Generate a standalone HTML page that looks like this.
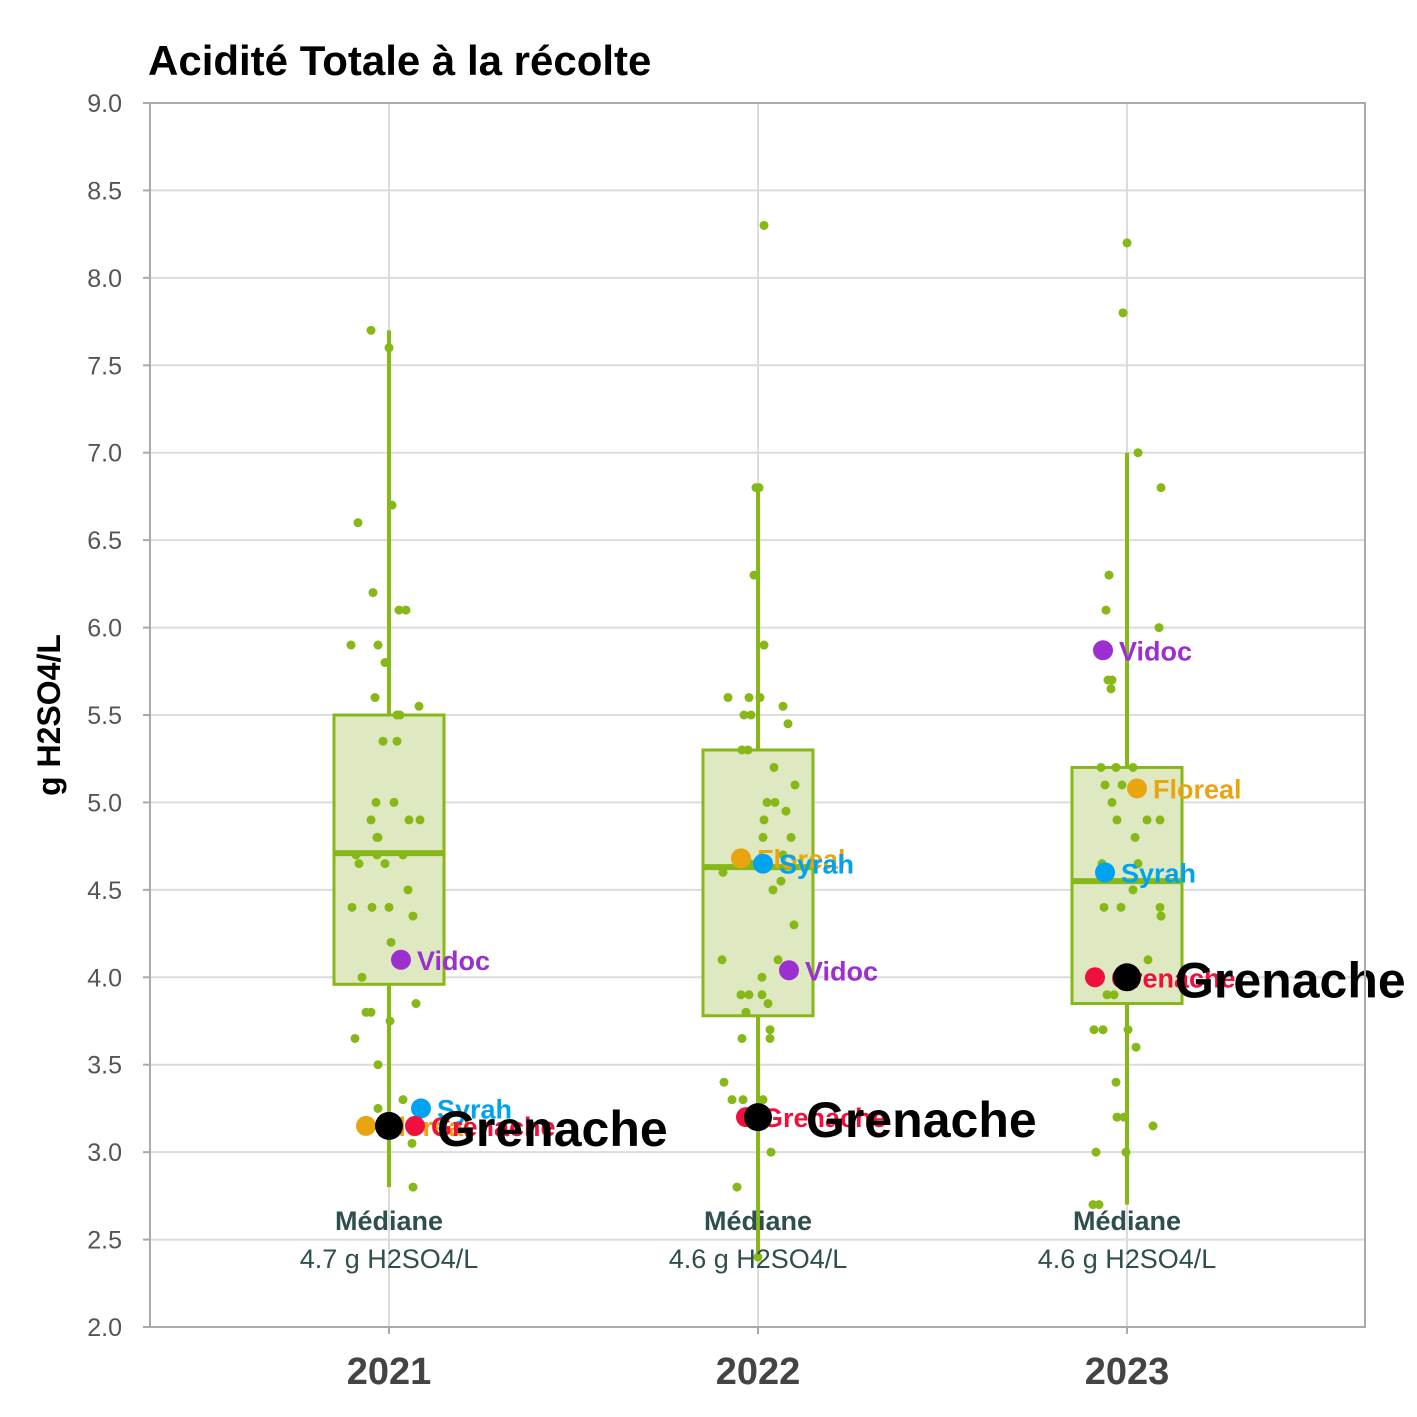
<!DOCTYPE html>
<html><head><meta charset="utf-8"><style>
body{margin:0;background:#fff}
svg{display:block;font-family:"Liberation Sans",sans-serif}
</style></head><body>
<svg id="chart" width="1417" height="1417" viewBox="0 0 1417 1417">
<rect width="1417" height="1417" fill="#fff"/>
<text x="148" y="75" font-size="42" font-weight="bold" fill="#000">Acidité Totale à la récolte</text>
<g id="grid"></g><g id="boxes"></g><g id="pts"></g><g id="hl"></g><g id="axes"></g>
</svg>
<script>
const categories=["2021","2022","2023"];
const q1=[3.96,3.78,3.85];
const medians=[4.71,4.63,4.55];
const q3=[5.5,5.3,5.2];
const whiskerLow=[2.8,2.4,2.7];
const whiskerHigh=[7.7,6.8,7.0];
const medianLabels=["4.7","4.6","4.6"];
const yTicks=[2.0,2.5,3.0,3.5,4.0,4.5,5.0,5.5,6.0,6.5,7.0,7.5,8.0,8.5,9.0];
const pts2021=[7.7,7.6,6.7,6.6,6.2,6.1,6.1,5.9,5.9,5.8,5.6,5.55,5.5,5.5,5.35,5.35,5.0,5.0,4.9,4.9,4.9,4.8,4.8,4.7,4.7,4.7,4.65,4.65,4.5,4.4,4.4,4.4,4.35,4.2,4.0,3.8,3.8,3.85,3.75,3.65,3.5,3.3,3.25,3.05,2.8,3.15];
const jit2021=[-18,0,3,-31,-16,10,17,-38,-11,-4,-14,30,8,11,-6,8,-13,5,-18,20,31,-12,-11,-33,-12,14,-30,-4,19,-37,-17,0,24,2,-27,-23,-18,27,1,-34,-11,14,-11,23,24,21];
const pts2022=[8.3,6.8,6.8,6.3,5.9,5.6,5.6,5.6,5.5,5.5,5.55,5.45,5.3,5.3,5.2,5.1,5.0,5.0,4.95,4.9,4.8,4.8,4.7,4.65,4.6,4.55,4.5,4.3,4.1,4.1,4.0,3.9,3.9,3.9,3.85,3.8,3.7,3.65,3.65,3.4,3.3,3.3,3.3,2.8,3.0,2.4];
const jit2022=[6,-2,1,-4,6,-30,-9,2,-14,-7,25,30,-16,-10,16,37,9,17,28,6,5,33,25,-8,-35,23,15,36,-36,20,4,-17,-9,4,10,-12,12,-16,12,-34,-26,-15,5,-21,13,0];
const pts2023=[8.2,7.8,7.0,6.8,6.3,6.1,6.0,5.7,5.7,5.65,5.2,5.2,5.2,5.1,5.1,5.0,4.9,4.9,4.9,4.8,4.65,4.65,4.5,4.4,4.4,4.4,4.35,4.1,4.0,3.9,3.9,3.7,3.7,3.7,3.6,3.4,3.2,3.2,3.15,3.0,3.0,2.7,2.7];
const jit2023=[0,-4,11,34,-18,-21,32,-19,-15,-16,-26,-11,6,-22,-5,-15,-10,20,33,8,-25,11,6,-23,-6,33,34,21,8,-20,-13,-33,-24,1,9,-11,-10,-3,26,-31,-1,-34,-28];
const varieties=["Floreal","Syrah","Vidoc","Grenache"];
const colors={"Floreal":"#e8a50f","Syrah":"#00a3f0","Vidoc":"#9b2fd0","Grenache":"#f0103e"};
const hlValues={"2021":[3.15,3.25,4.1,3.15],"2022":[4.68,4.65,4.04,3.2],"2023":[5.08,4.6,5.87,4.0]};
const hlJitter={"2021":[-23,32,12,26],"2022":[-17,5,31,-12],"2023":[10,-22,-24,-32]};
const grenacheBig=[3.15,3.2,4.0];

const NS="http://www.w3.org/2000/svg";
const X0=150,X1=1365,Y0=103,Y1=1327;
const y=v=>Y1-(v-2)/7*(Y1-Y0);
const step=369;
const x=i=>389+i*step;
function mk(tag,attrs,parent,text){const e=document.createElementNS(NS,tag);for(const k in attrs)e.setAttribute(k,attrs[k]);if(text!==undefined)e.textContent=text;document.getElementById(parent).appendChild(e);return e;}

yTicks.forEach(t=>{
 const l=mk("line",{x1:X0,x2:X1,y1:y(t),y2:y(t),stroke:"#dcdcdc","stroke-width":2},"grid");
 
 
 const tk=mk("line",{x1:X0-7,x2:X0,y1:y(t),y2:y(t),stroke:"#aaa","stroke-width":2},"axes");
 
 
 const tx=mk("text",{x:122,y:y(t)+9,"text-anchor":"end","font-size":25,fill:"#555"},"axes",t.toFixed(1));
 
 
});
categories.forEach((c,i)=>{
 const l=mk("line",{x1:x(i),x2:x(i),y1:Y0,y2:Y1,stroke:"#dcdcdc","stroke-width":2},"grid");
 
 
 const tk=mk("line",{x1:x(i),x2:x(i),y1:Y1,y2:Y1+7,stroke:"#aaa","stroke-width":2},"axes");
 
 
 const tx=mk("text",{x:x(i),y:1384,"text-anchor":"middle","font-size":38,"font-weight":"bold",fill:"#444"},"axes",c);
 
 
});
const fr=mk("rect",{x:X0,y:Y0,width:X1-X0,height:Y1-Y0,fill:"none",stroke:"#aaa","stroke-width":2},"axes");


const yt=mk("text",{transform:"translate(60,715) rotate(-90)","text-anchor":"middle","font-size":32,"font-weight":"bold",fill:"#000"},"axes","g H2SO4/L");



const G="#86b818";
categories.forEach((c,i)=>{
 const w=mk("line",{x1:x(i),x2:x(i),y1:y(whiskerLow[i]),y2:y(whiskerHigh[i]),stroke:G,"stroke-width":4},"boxes");
 
 
 const b=mk("rect",{x:x(i)-55,y:y(q3[i]),width:110,height:y(q1[i])-y(q3[i]),fill:"#dfe9c1",stroke:G,"stroke-width":3},"boxes");
 
 
 const m=mk("line",{x1:x(i)-55,x2:x(i)+55,y1:y(medians[i]),y2:y(medians[i]),stroke:G,"stroke-width":6},"boxes");
 
 
 const t1=mk("text",{x:x(i),y:1230,"text-anchor":"middle","font-size":27,"font-weight":"bold",fill:"#2f4f4f"},"hl","Médiane");
 
 
 const t2=mk("text",{x:x(i),y:1268,"text-anchor":"middle","font-size":27,fill:"#2f4f4f"},"hl",medianLabels[i]+" g H2SO4/L");
 
 
});
[[pts2021,jit2021],[pts2022,jit2022],[pts2023,jit2023]].forEach(([vals,jit],i)=>{
 vals.forEach((v,k)=>{
  const p=mk("circle",{cx:x(i)+jit[k],cy:y(v),r:4.5,fill:G},"pts");
  
  
 });
});
categories.forEach((c,i)=>{
 varieties.forEach((vn,k)=>{
  const v=hlValues[c][k],cx=x(i)+hlJitter[c][k];
  const p=mk("circle",{cx:cx,cy:y(v),r:10,fill:colors[vn]},"hl");
  
  
  const t=mk("text",{x:cx+16,y:y(v)+10,"font-size":27,"font-weight":"bold",fill:colors[vn]},"hl",vn);
  
  
 });
 const g=mk("circle",{cx:x(i),cy:y(grenacheBig[i]),r:14,fill:"#000"},"hl");
 
 
 const gt=mk("text",{x:x(i)+48,y:y(grenacheBig[i])+20,"font-size":50,"font-weight":"bold",fill:"#000"},"hl","Grenache");
 
 
});
</script>
</body></html>
